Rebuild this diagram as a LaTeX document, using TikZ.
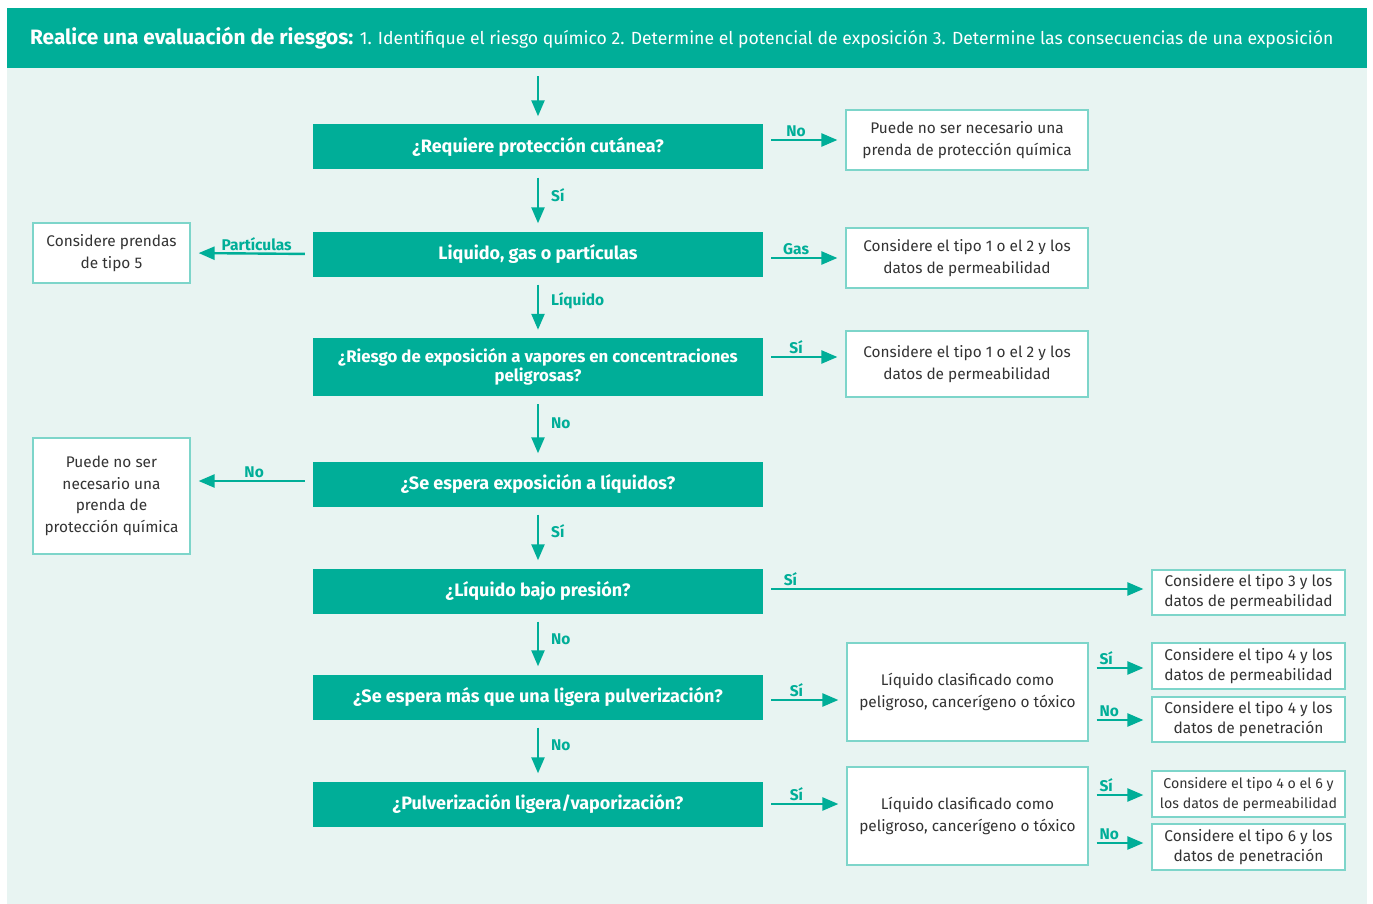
\documentclass[tikz,border=0pt]{standalone}
\usepackage{fontspec}
\setmainfont{Fira Sans}
\usetikzlibrary{arrows.meta}

\definecolor{verde}{HTML}{00AE98}
\definecolor{fondo}{HTML}{E8F4F2}
\definecolor{borde}{HTML}{7DD5CA}
\definecolor{texto}{HTML}{333333}

\begin{document}
\begin{tikzpicture}[x=1pt, y=-1pt,
    pregunta/.style={fill=verde, text=white, font=\fontsize{18}{20}\selectfont\bfseries,
        minimum width=450pt, minimum height=45pt, align=center, inner sep=0pt},
    caja/.style={draw=borde, line width=1.2pt, fill=white, text=texto,
        font=\fontsize{15.4}{22}\selectfont, align=center, inner sep=0pt},
    flecha/.style={verde, line width=2.4pt, -{Triangle[length=16pt, width=13pt]},
        shorten <=8pt, shorten >=8pt},
    etiqueta/.style={text=verde, font=\fontsize{15.5}{17}\selectfont\bfseries, inner sep=2pt}]

    % marco
    \useasboundingbox (0,0) rectangle (1373,904);
    \fill[fondo] (7,68) rectangle (1367,904);

    % cabecera
    \node[fill=verde, minimum width=1360pt, minimum height=60pt, inner sep=0pt,
        anchor=north west] (cabecera) at (7,8) {};
    \node[anchor=west, text=white, inner sep=0pt] (titulo) at (30,38)
        {\fontsize{20.8}{24}\selectfont\bfseries Realice una evaluación de riesgos:
         \fontsize{17.6}{24}\selectfont\mdseries 1. Identifique el riesgo químico
         2. Determine el potencial de exposición 3. Determine las consecuencias de una exposición};

    % preguntas
    \node[pregunta] (q1) at (538,147) {¿Requiere protección cutánea?};
    \node[pregunta] (q2) at (538,254) {Liquido, gas o partículas};
    \node[pregunta, minimum height=58pt, font=\fontsize{16.8}{19}\selectfont\bfseries]
        (q3) at (538,367) {¿Riesgo de exposición a vapores en concentraciones\\peligrosas?};
    \node[pregunta] (q4) at (538,484) {¿Se espera exposición a líquidos?};
    \node[pregunta] (q5) at (538,591) {¿Líquido bajo presión?};
    \node[pregunta] (q6) at (538,697) {¿Se espera más que una ligera pulverización?};
    \node[pregunta] (q7) at (538,804) {¿Pulverización ligera/vaporización?};

    % cajas de la derecha
    \node[caja, minimum width=242pt, minimum height=60pt] (r1) at (967,140)
        {Puede no ser necesario una\\prenda de protección química};
    \node[caja, minimum width=242pt, minimum height=60pt] (r2) at (967,258)
        {Considere el tipo 1 o el 2 y los\\datos de permeabilidad};
    \node[caja, minimum width=242pt, minimum height=66pt] (r3) at (967,364)
        {Considere el tipo 1 o el 2 y los\\datos de permeabilidad};
    \node[caja, minimum width=193pt, minimum height=45pt, font=\fontsize{15.5}{20}\selectfont]
        (r5) at (1248.5,592.5) {Considere el tipo 3 y los\\datos de permeabilidad};
    \node[caja, minimum width=241pt, minimum height=98pt] (r6) at (967.5,692)
        {Líquido clasificado como\\peligroso, cancerígeno o tóxico};
    \node[caja, minimum width=241pt, minimum height=98pt] (r7) at (967.5,816)
        {Líquido clasificado como\\peligroso, cancerígeno o tóxico};

    % cajas del extremo derecho
    \node[caja, minimum width=193pt, minimum height=46pt, font=\fontsize{15.5}{20}\selectfont]
        (s6a) at (1248.5,666) {Considere el tipo 4 y los\\datos de permeabilidad};
    \node[caja, minimum width=193pt, minimum height=45pt, font=\fontsize{15.5}{20}\selectfont]
        (s6b) at (1248.5,719.5) {Considere el tipo 4 y los\\datos de penetración};
    \node[caja, minimum width=193pt, minimum height=46pt, font=\fontsize{14.2}{20}\selectfont]
        (s7a) at (1248.5,794) {Considere el tipo 4 o el 6 y\\los datos de permeabilidad};
    \node[caja, minimum width=193pt, minimum height=46pt, font=\fontsize{15.5}{20}\selectfont]
        (s7b) at (1248.5,847) {Considere el tipo 6 y los\\datos de penetración};

    % cajas de la izquierda
    \node[caja, minimum width=157pt, minimum height=60pt] (l2) at (111.5,253)
        {Considere prendas\\de tipo 5};
    \node[caja, minimum width=157pt, minimum height=116pt, font=\fontsize{15.4}{21.5}\selectfont]
        (l4) at (111.5,496) {Puede no ser\\necesario una\\prenda de\\protección química};

    % flechas verticales
    \draw[flecha] (cabecera.south -| q1.north) -- (q1.north);
    \draw[flecha] (q1) -- (q2) node[etiqueta, right, xshift=10pt, pos=0.42] {Sí};
    \draw[flecha] (q2) -- (q3) node[etiqueta, right, xshift=10pt, pos=0.40] {Líquido};
    \draw[flecha] (q3) -- (q4) node[etiqueta, right, xshift=10pt, pos=0.42] {No};
    \draw[flecha] (q4) -- (q5) node[etiqueta, right, xshift=10pt, pos=0.40] {Sí};
    \draw[flecha] (q5) -- (q6) node[etiqueta, right, xshift=10pt, pos=0.42] {No};
    \draw[flecha] (q6) -- (q7) node[etiqueta, right, xshift=10pt, pos=0.42] {No};

    % flechas a la derecha
    \draw[flecha] (q1.east |- r1.west) -- (r1.west) node[etiqueta, above, pos=0.4] {No};
    \draw[flecha] (q2.east |- r2.west) -- (r2.west) node[etiqueta, above, pos=0.4] {Gas};
    \draw[flecha] (q3.east |- 0,357) -- (r3.west |- 0,357) node[etiqueta, above, pos=0.4] {Sí};
    \draw[flecha] (q5.east |- 0,589) -- (r5.west |- 0,589) node[etiqueta, above, pos=0.07] {Sí};
    \draw[flecha] (q6.east |- 0,700) -- (r6.west |- 0,700) node[etiqueta, above, pos=0.4] {Sí};
    \draw[flecha] (q7.east |- 0,804) -- (r7.west |- 0,804) node[etiqueta, above, pos=0.4] {Sí};

    % flechas de los materiales clasificados
    \draw[flecha] (r6.east |- 0,668) -- (s6a.west |- 0,668) node[etiqueta, above, pos=0.28] {Sí};
    \draw[flecha] (r6.east |- 0,720) -- (s6b.west |- 0,720) node[etiqueta, above, pos=0.33] {No};
    \draw[flecha] (r7.east |- 0,795) -- (s7a.west |- 0,795) node[etiqueta, above, pos=0.28] {Sí};
    \draw[flecha] (r7.east |- 0,843) -- (s7b.west |- 0,843) node[etiqueta, above, pos=0.33] {No};

    % flechas a la izquierda
    \draw[flecha] (q2.west) -- (l2.east) node[etiqueta, above, pos=0.46] {Partículas};
    \draw[flecha] (q4.west |- 0,481) -- (l4.east |- 0,481) node[etiqueta, above, pos=0.48] {No};

\end{tikzpicture}
\end{document}
